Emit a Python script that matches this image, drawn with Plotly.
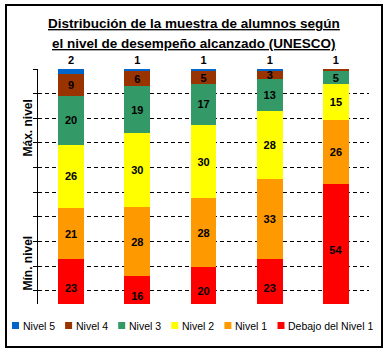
import plotly.graph_objects as go

categories = ["Grupo 1", "Grupo 2", "Grupo 3", "Grupo 4", "Grupo 5"]
series_names = ["Debajo del Nivel 1", "Nivel 1", "Nivel 2", "Nivel 3", "Nivel 4", "Nivel 5"]
debajo = [23, 16, 20, 23, 54]
nivel1 = [21, 28, 28, 33, 26]
nivel2 = [26, 30, 30, 28, 15]
nivel3 = [20, 19, 17, 13, 5]
nivel4 = [9, 6, 5, 3, 1]
nivel5 = [2, 1, 1, 1, None]
colors = ["#FF0000", "#FF9900", "#FFFF00", "#339966", "#993300", "#0066CC"]
title_lines = ["Distribución de la muestra de alumnos según",
               "el nivel de desempeño alcanzado (UNESCO)"]

W, H = 389, 354
ML, MR, MT, MB = 38, 20, 69, 50
PW, PH = W - ML - MR, H - MT - MB


def px(x):
    return (x - ML) / PW


def py(y):
    return (H - MB - y) / PH


FONT = "Liberation Sans, Arial, sans-serif"

fig = go.Figure()
all_series = [debajo, nivel1, nivel2, nivel3, nivel4, nivel5]
n = len(all_series)
for i, (name, vals, col) in enumerate(zip(series_names, all_series, colors)):
    # label goes above the bar when this series is the topmost segment of its bar
    positions = []
    for j, v in enumerate(vals):
        above = [all_series[k][j] for k in range(i + 1, n)]
        topmost = all(a is None or a == 0 for a in above)
        positions.append("outside" if topmost else "inside")
    fig.add_trace(go.Bar(
        x=categories, y=vals, name=name,
        marker=dict(color=col, line=dict(width=0)),
        text=[str(v) if v else "" for v in vals],
        texttemplate="%{text}",
        textposition=positions,
        insidetextanchor="middle",
        textangle=0,
        constraintext="none",
        textfont=dict(family=FONT, size=11, color="black", weight="bold"),
        cliponaxis=False,
        width=0.39,
        showlegend=False,
    ))

fig.update_layout(
    width=W, height=H,
    margin=dict(l=ML, r=MR, t=MT, b=MB),
    barmode="stack", barnorm="percent",
    plot_bgcolor="white", paper_bgcolor="white",
    font=dict(family=FONT, color="black"),
    xaxis=dict(visible=False, range=[-0.5, 4.5]),
    yaxis=dict(range=[4.7, 100], dtick=10, tick0=0,
               showticklabels=False, showgrid=True, gridcolor="black",
               griddash="4px,3px", gridwidth=1,
               showline=True, linecolor="black", linewidth=1,
               ticks="outside", ticklen=4, tickcolor="black",
               zeroline=False, fixedrange=True),
)

# Outer border
fig.add_shape(type="rect", xref="paper", yref="paper",
              x0=px(6), x1=px(382), y0=py(347), y1=py(5),
              line=dict(color="black", width=2), fillcolor="rgba(0,0,0,0)")

# Title (two underlined bold lines)
for txt, yc in zip(title_lines, [23.5, 43.5]):
    fig.add_annotation(text="<u>" + txt + "</u>", xref="paper", yref="paper",
                       x=px(194), y=py(yc), xanchor="center", yanchor="middle",
                       showarrow=False,
                       font=dict(family=FONT, size=13.5, color="black", weight="bold"))

# Side labels
for txt, yc in [("Máx. nivel", 128), ("Mín. nivel", 263)]:
    fig.add_annotation(text=txt, xref="paper", yref="paper",
                       x=px(27.5), y=py(yc), xanchor="center", yanchor="middle",
                       textangle=-90, showarrow=False,
                       font=dict(family=FONT, size=12, color="black", weight="bold"))

# Manual legend (reversed order: Nivel 5 first)
leg_order = list(range(len(series_names)))[::-1]
for k, i in enumerate(leg_order):
    x0 = 12 + k * 53.1
    fig.add_shape(type="rect", xref="paper", yref="paper",
                  x0=px(x0), x1=px(x0 + 7), y0=py(329), y1=py(322),
                  line=dict(width=0), fillcolor=colors[i])
    fig.add_annotation(text=series_names[i], xref="paper", yref="paper",
                       x=px(x0 + 8.5), y=py(325.5), xanchor="left", yanchor="middle",
                       showarrow=False,
                       font=dict(family=FONT, size=10.5, color="black"))

fig.write_html("out.html")
